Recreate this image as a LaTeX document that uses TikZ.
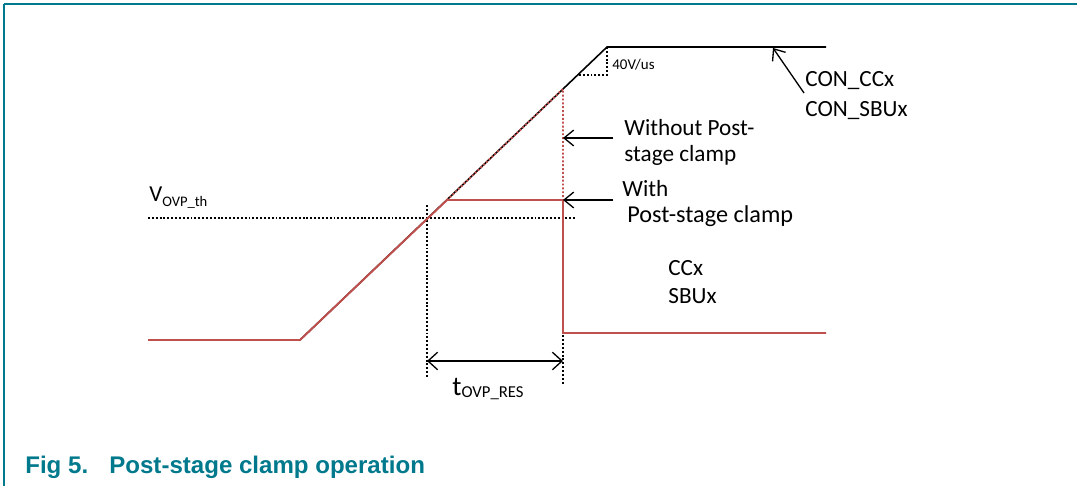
\documentclass[tikz,border=0pt]{standalone}
\usepackage{fontspec}
\setmainfont{Carlito}
\newfontfamily\capfont{Liberation Sans}
\usepackage{tikz}
\usetikzlibrary{arrows.meta}
\definecolor{nxpteal}{RGB}{0,121,140}
\definecolor{sigred}{RGB}{192,80,77}
% lowered subscript: size, drop, text
\newcommand{\lsub}[3]{\raisebox{-#2}{\fontsize{#1}{#1}\selectfont #3}}

\begin{document}
\begin{tikzpicture}[x=0.02cm, y=-0.02cm,
    lbl/.style={anchor=base west, inner sep=0pt, font=\fontsize{13.2}{15}\selectfont},
    thr/.style={black, line width=0.75pt, dash pattern=on 1.1pt off 1.1pt},
    sig/.style={black, line width=0.9pt},
    clamp/.style={sigred, line width=1.1pt},
    noclamp/.style={sigred, line width=1.1pt, dash pattern=on 1.1pt off 1.1pt},
    callout/.style={line width=0.75pt, -{Straight Barb[length=5.5pt,width=9pt]}},
    span/.style={line width=0.75pt, {Straight Barb[length=5.5pt,width=10pt]}-{Straight Barb[length=5.5pt,width=10pt]}}]
    \useasboundingbox (0,0) rectangle (1077,486);

    % --- Frame ---
    \draw[nxpteal, line width=1.1pt] (1077,4) -- (4,4);
    \draw[nxpteal, line width=0.6pt] (4,4) -- (4,486);

    % --- Points of the traces ---
    \coordinate (lowL) at (148,340);
    \coordinate (kneeA) at (300,340);
    \coordinate (cross) at (428,218);
    \coordinate (clampS) at (447,200);
    \coordinate (clampE) at (563,200);
    \coordinate (dropB) at (563,333);
    \coordinate (lowR) at (826,333);
    \coordinate (peakN) at (563,89);
    \coordinate (topK) at (607,47);
    \coordinate (topR) at (826,47);
    \coordinate (slopeB) at (607,75);
    \coordinate (slopeL) at (578,75);

    % --- Threshold and timing marks ---
    \draw[thr] (148,218) -- (576,218);
    \draw[thr] (427,205) -- (427,378);
    \draw[thr] (563,200) -- (563,385);
    \node[anchor=base west, inner sep=0pt, font=\fontsize{13}{15}\selectfont] (vth) at (149,201) {V\lsub{8.3}{3pt}{OVP\_th}};

    % --- CON_CCx / CON_SBUx ---
    \draw[sig] (kneeA) -- (topK) -- (topR);
    \draw[thr] (topK) -- (slopeB) -- (slopeL);
    \node[anchor=base west, inner sep=0pt, font=\fontsize{8.5}{10}\selectfont] (slope) at (612,70) {40V/us};

    % --- CCx / SBUx ---
    \draw[clamp] (lowL) -- (kneeA) -- (clampS) -- (clampE) -- (dropB) -- (lowR);
    \draw[noclamp] (clampS) -- (peakN) -- (clampE);

    % --- Labels and callouts ---
    \node[lbl] (wo1) at (624,136) {Without Post-};
    \node[lbl] (wo2) at (624,162) {stage clamp};
    \coordinate (woTail) at (613,138);
    \coordinate (woTip) at (563,138);
    \draw[callout] (woTail) -- (woTip);

    \node[lbl] (w1) at (622,196) {With};
    \node[lbl, font=\fontsize{13.8}{15}\selectfont] (w2) at (627,222) {Post-stage clamp};
    \coordinate (wTail) at (613,200);
    \draw[callout] (wTail) -- (clampE);

    \node[lbl] (con1) at (805,87) {CON\_CCx};
    \node[lbl] (con2) at (805,117) {CON\_SBUx};
    \coordinate (conTail) at (804,93);
    \coordinate (conTip) at (773,48);
    \draw[callout] (conTail) -- (conTip);

    \node[lbl] (ccx) at (668,275) {CCx};
    \node[lbl] (sbux) at (668,303) {SBUx};

    % --- Response time ---
    \coordinate (resL) at (427,361);
    \coordinate (resR) at (563,361);
    \draw[span] (resL) -- (resR);
    \node[anchor=base, inner sep=0pt, font=\fontsize{15.5}{17}\selectfont] (tres) at (488,395) {t\lsub{9.5}{1.3pt}{OVP\_RES}};

    % --- Caption ---
    \node[anchor=base west, inner sep=0pt, text=nxpteal, font=\capfont\bfseries\fontsize{13.7}{16}\selectfont] (fignum) at (25,473) {Fig 5.};
    \node[anchor=base west, inner sep=0pt, text=nxpteal, font=\capfont\bfseries\fontsize{13.7}{16}\selectfont] (figtitle) at (109,473) {Post-stage clamp operation};
\end{tikzpicture}
\end{document}
